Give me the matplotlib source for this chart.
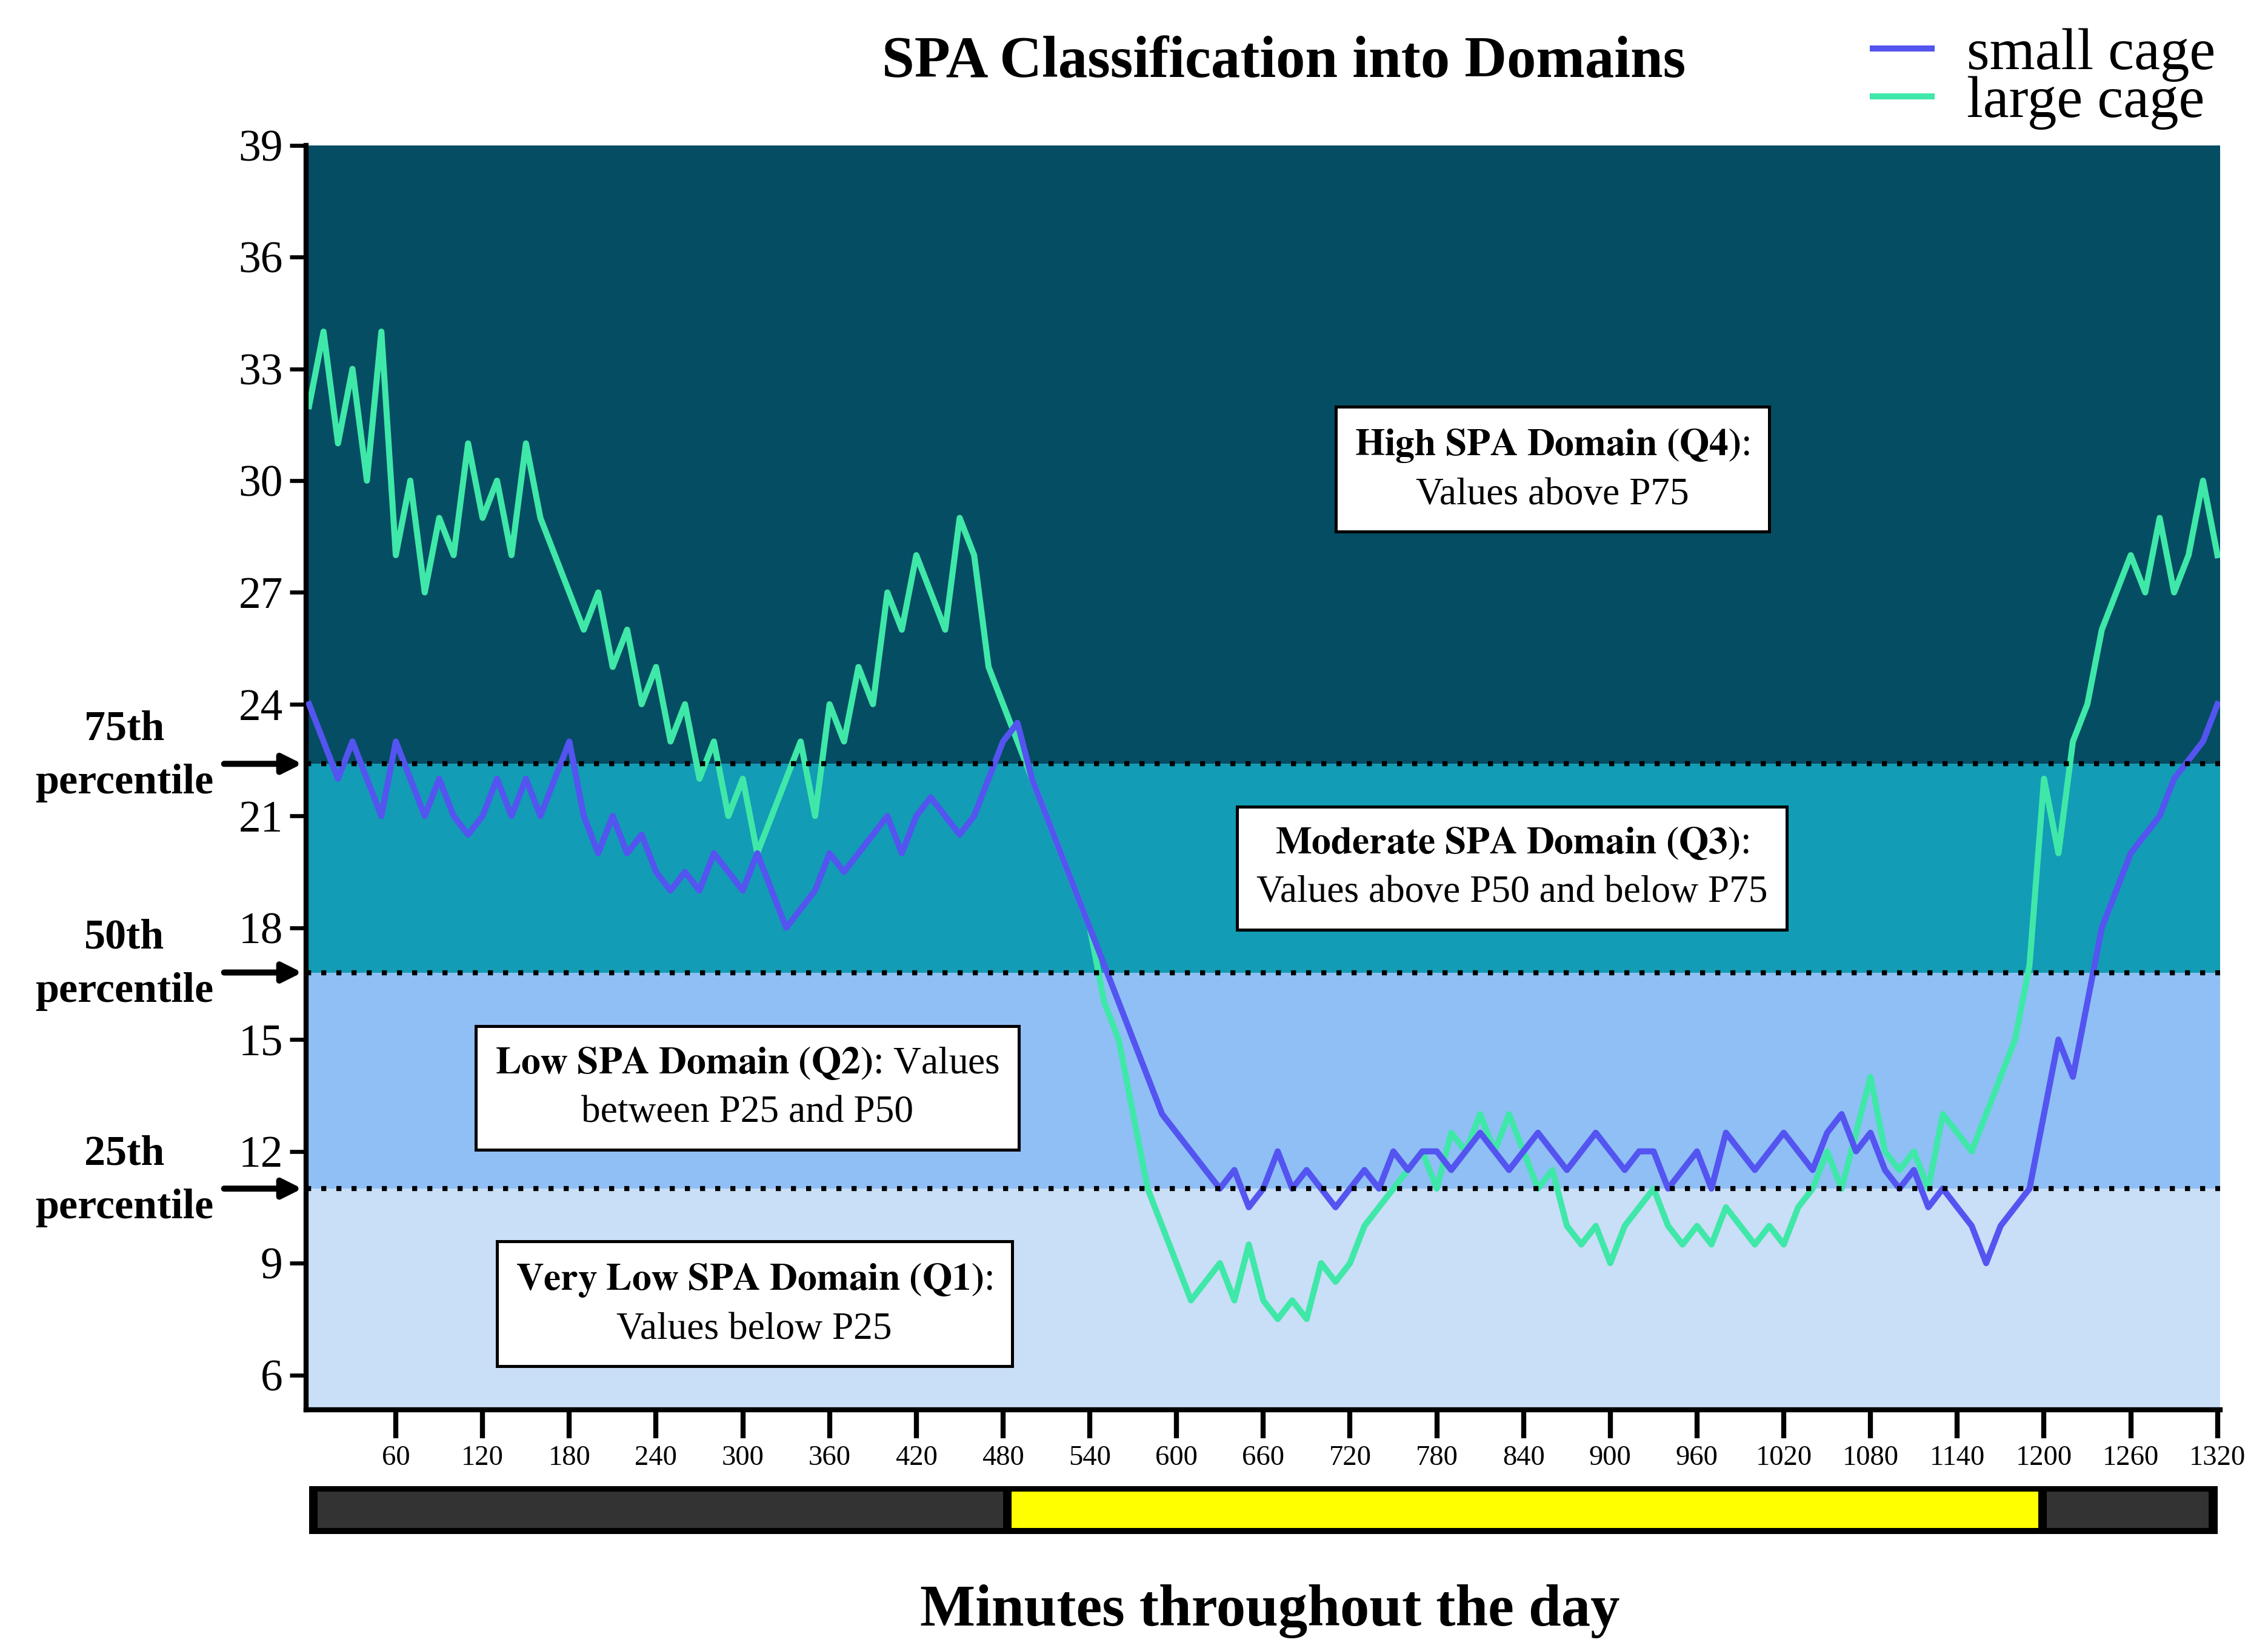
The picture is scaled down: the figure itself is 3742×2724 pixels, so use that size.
import numpy as np
import matplotlib.pyplot as plt
from matplotlib.patches import Rectangle

# values read every 10 minutes, 0 .. 1320
minutes = np.arange(0, 1321, 10)

large_cage = [
    32, 34, 31, 33, 30, 34, 28, 30, 27, 29,          # 0-90
    28, 31, 29, 30, 28, 31, 29, 28, 27, 26,          # 100-190
    27, 25, 26, 24, 25, 23, 24, 22, 23, 21,          # 200-290
    22, 20, 21, 22, 23, 21, 24, 23, 25, 24,          # 300-390
    27, 26, 28, 27, 26, 29, 28, 25, 24, 23,          # 400-490
    22, 21, 20, 19, 18, 16, 15, 13, 11, 10,          # 500-590
    9, 8, 8.5, 9, 8, 9.5, 8, 7.5, 8, 7.5,            # 600-690
    9, 8.5, 9, 10, 10.5, 11, 11.5, 12, 11, 12.5,     # 700-790
    12, 13, 12, 13, 12, 11, 11.5, 10, 9.5, 10,       # 800-890
    9, 10, 10.5, 11, 10, 9.5, 10, 9.5, 10.5, 10,     # 900-990
    9.5, 10, 9.5, 10.5, 11, 12, 11, 12.5, 14, 12,    # 1000-1090
    11.5, 12, 11, 13, 12.5, 12, 13, 14, 15, 17,      # 1100-1190
    22, 20, 23, 24, 26, 27, 28, 27, 29, 27,          # 1200-1290
    28, 30, 28,                                      # 1300-1320
]

small_cage = [
    24, 23, 22, 23, 22, 21, 23, 22, 21, 22,          # 0-90
    21, 20.5, 21, 22, 21, 22, 21, 22, 23, 21,        # 100-190
    20, 21, 20, 20.5, 19.5, 19, 19.5, 19, 20, 19.5,  # 200-290
    19, 20, 19, 18, 18.5, 19, 20, 19.5, 20, 20.5,    # 300-390
    21, 20, 21, 21.5, 21, 20.5, 21, 22, 23, 23.5,    # 400-490
    22, 21, 20, 19, 18, 17, 16, 15, 14, 13,          # 500-590
    12.5, 12, 11.5, 11, 11.5, 10.5, 11, 12, 11, 11.5,  # 600-690
    11, 10.5, 11, 11.5, 11, 12, 11.5, 12, 12, 11.5,  # 700-790
    12, 12.5, 12, 11.5, 12, 12.5, 12, 11.5, 12, 12.5,  # 800-890
    12, 11.5, 12, 12, 11, 11.5, 12, 11, 12.5, 12,    # 900-990
    11.5, 12, 12.5, 12, 11.5, 12.5, 13, 12, 12.5, 11.5,  # 1000-1090
    11, 11.5, 10.5, 11, 10.5, 10, 9, 10, 10.5, 11,   # 1100-1190
    13, 15, 14, 16, 18, 19, 20, 20.5, 21, 22,        # 1200-1290
    22.5, 23, 24,                                    # 1300-1320
]

p25, p50, p75 = 11.0, 16.8, 22.4
y_ticks = [6, 9, 12, 15, 18, 21, 24, 27, 30, 33, 36, 39]
x_ticks = list(range(60, 1321, 60))

plt.rcParams["font.family"] = "Liberation Serif"
fig = plt.figure(figsize=(3742 / 240, 2724 / 240), dpi=240)
ax = fig.add_axes([0.135, 0.146, 0.844, 0.766])

x0, x1, y0, y1 = -2, 1322, 5.06, 39
ax.set_xlim(x0, x1)
ax.set_ylim(y0, y1)
bands = [(y0, p25, "#c9def7"), (p25, p50, "#8fbff5"), (p50, p75, "#139cb5"), (p75, y1, "#044d63")]
for lo, hi, c in bands:
    ax.axhspan(lo, hi, color=c, lw=0, zorder=0)

ax.plot(minutes, large_cage, color="#3fe8a8", lw=3, zorder=2, label="large cage")
ax.plot(minutes, small_cage, color="#5454f0", lw=3, zorder=3, label="small cage")

for p in (p25, p50, p75):
    ax.axhline(p, color="black", ls=(0, (1, 2)), lw=2.5, zorder=4)

ax.set_yticks(y_ticks)
ax.set_xticks(x_ticks)
ax.tick_params(axis="y", labelsize=22, width=2, length=8)
ax.tick_params(axis="x", labelsize=14, width=2.5, length=14)
for s in ("top", "right"):
    ax.spines[s].set_visible(False)
for s in ("left", "bottom"):
    ax.spines[s].set_linewidth(2.5)

box = dict(boxstyle="square,pad=0.5", fc="white", ec="black", lw=1.5)
notes = [
    (860, 30.3, "High SPA Domain (Q4)", "Values above P75"),
    (832, 19.6, "Moderate SPA Domain (Q3)", "Values above P50 and below P75"),
    (303, 13.7, "Low SPA Domain (Q2)", None),
    (308, 7.9, "Very Low SPA Domain (Q1)", "Values below P25"),
]
for x, y, head, body in notes:
    if body is None:
        txt = r"$\bf{Low\ SPA\ Domain\ (Q2)}$: Values" + "\nbetween P25 and P50"
    else:
        txt = r"$\bf{" + head.replace(" ", r"\ ") + "}$:\n" + body
    ax.text(x, y, txt, ha="center", va="center", fontsize=19, linespacing=1.5,
            bbox=box, zorder=5, math_fontfamily="stix")

for p, lab in ((p75, "75th"), (p50, "50th"), (p25, "25th")):
    ax.annotate("", xy=(0, p), xycoords=("axes fraction", "data"),
                xytext=(-0.045, p), textcoords=("axes fraction", "data"),
                arrowprops=dict(arrowstyle="-|>,head_length=0.8,head_width=0.4", color="black", lw=3),
                annotation_clip=False)
    ax.text(-0.095, p + 0.2, lab + "\npercentile", transform=ax.get_yaxis_transform(),
            ha="center", va="center", fontsize=21, fontweight="bold", linespacing=1.5)

fig.text(0.566, 0.962, "SPA Classification into Domains", ha="center", va="center",
         fontsize=29, fontweight="bold")
fig.text(0.56, 0.024, "Minutes throughout the day", ha="center", va="center",
         fontsize=29, fontweight="bold")

h, l = ax.get_legend_handles_labels()
fig.legend(h[::-1], l[::-1], loc="upper right", bbox_to_anchor=(1.0, 1.015), frameon=False,
           fontsize=29, handlelength=1.0, labelspacing=-0.1, handletextpad=0.6)

# light / dark bar
bar = fig.add_axes([0.135, 0.071, 0.844, 0.029])
bar.set_xlim(x0, x1)
bar.set_ylim(0, 1)
bar.axis("off")
bar.add_patch(Rectangle((2, 0), 1316, 1, fc="black", ec="black", lw=3))
bar.add_patch(Rectangle((6, 0.12), 474, 0.76, fc="#333333", lw=0))
bar.add_patch(Rectangle((486, 0.12), 710, 0.76, fc="#ffff00", lw=0))
bar.add_patch(Rectangle((1202, 0.12), 112, 0.76, fc="#333333", lw=0))

fig.savefig("out.png", dpi=240)
